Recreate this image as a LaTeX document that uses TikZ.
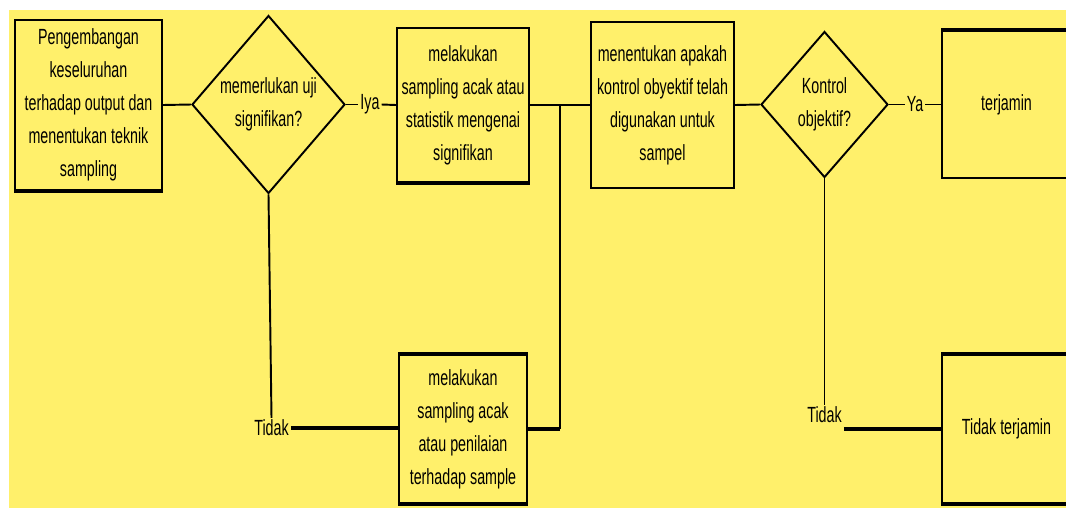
\documentclass[tikz,border=0pt]{standalone}
\usepackage{fontspec}
\setmainfont{Liberation Sans}[FakeStretch=0.65]
\usetikzlibrary{shapes.geometric}
\definecolor{bgyellow}{RGB}{255,240,107}
\tikzset{
  txt/.style={font=\fontsize{12.5pt}{18.8pt}\selectfont},
  box/.style={txt,draw,fill=bgyellow,line width=1.1pt,inner sep=0pt,align=center},
  decision/.style={box,diamond},
  lbl/.style={txt,inner sep=1pt},
  link/.style={line width=1.1pt},
  heavy/.style={line width=2pt}
}
\begin{document}
\begin{tikzpicture}[x=0.02cm,y=-0.02cm]
\clip (0,0) rectangle (1066,508);
\fill[white] (0,0) rectangle (1066,508);
\fill[bgyellow] (9,10) rectangle (1066,508);
\node[box,minimum width=2.94cm,minimum height=3.4cm] (dev) at (88.5,105) {Pengembangan\\keseluruhan\\terhadap output dan\\menentukan teknik\\sampling};
\node[decision,minimum width=3.06cm,minimum height=3.56cm] (q1) at (268.5,104.5) {memerlukan uji\\signifikan?};
\node[lbl] (iya) at (370,104.5) {Iya};
\node[box,minimum width=2.64cm,minimum height=3.08cm] (samp) at (463,105) {melakukan\\sampling acak atau\\statistik mengenai\\signifikan};
\node[box,minimum width=2.86cm,minimum height=3.32cm] (chk) at (662.5,105) {menentukan apakah\\kontrol obyektif telah\\digunakan untuk\\sampel};
\node[decision,minimum width=2.54cm,minimum height=2.92cm] (q2) at (824.5,104.5) {Kontrol\\objektif?};
\node[lbl] (ya) at (915,104.5) {Ya};
\node[box,minimum width=2.58cm,minimum height=2.94cm] (ok) at (1006.5,104.5) {terjamin};
\node[lbl] (tidakA) at (271.5,428) {Tidak};
\node[box,minimum width=2.56cm,minimum height=2.96cm] (assess) at (463,429) {melakukan\\sampling acak\\atau penilaian\\terhadap sample};
\node[lbl] (tidakB) at (824.5,415) {Tidak};
\node[box,minimum width=2.58cm,minimum height=2.96cm] (notok) at (1006.5,429) {Tidak terjamin};
\coordinate (j) at (560,104.5);
\draw[link] (dev.east) -- (q1.west);
\draw[link] (q1.east) -- (iya.west);
\draw[link] (iya.east) -- (samp.west);
\draw[link] (samp.east) -- (chk.west);
\draw[link] (chk.east) -- (q2.west);
\draw[link] (q2.east) -- (ya.west);
\draw[link] (ya.east) -- (ok.west);
\draw[link] (q1.south) -- (tidakA.north);
\draw[heavy] (tidakA.east) -- (tidakA.east -| assess.west);
\draw[heavy] (assess.east) -- (assess.east -| j) coordinate (k);
\draw[link] (k) -- (j);
\draw[link] (q2.south) -- (tidakB.north);
\draw[heavy] (tidakB.east |- notok.west) -- (notok.west);
\draw[heavy] (dev.south west) -- (dev.south east);
\draw[heavy] (samp.south west) -- (samp.south east);
\draw[heavy] (ok.north west) -- (ok.north east);
\draw[heavy] (assess.north west) -- (assess.north east);
\draw[heavy] (assess.south west) -- (assess.south east);
\draw[heavy] (notok.north west) -- (notok.north east);
\draw[heavy] (notok.south west) -- (notok.south east);
\end{tikzpicture}
\end{document}
